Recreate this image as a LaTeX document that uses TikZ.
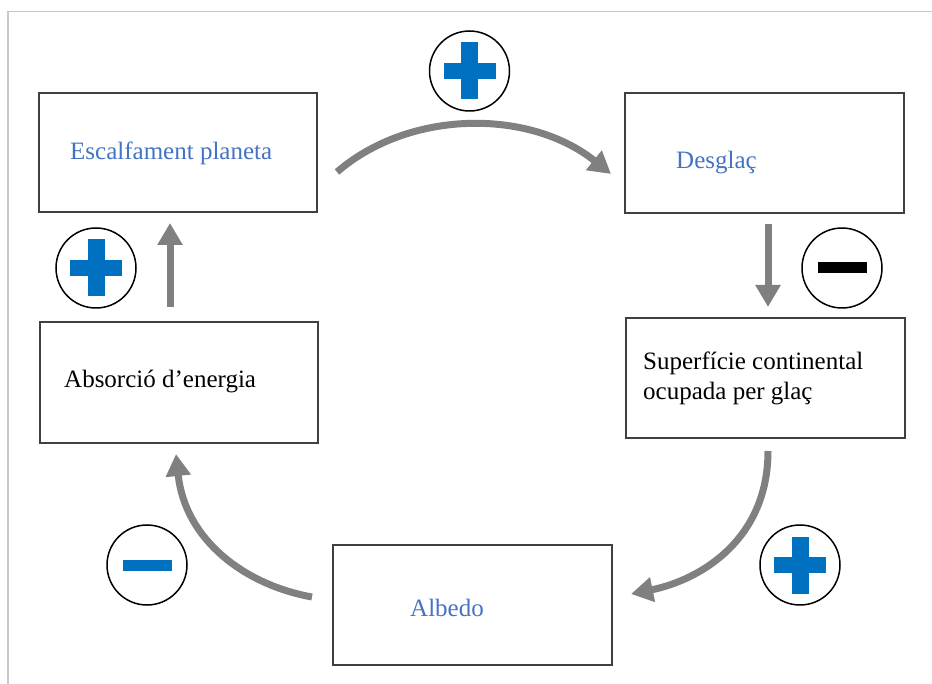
\documentclass[tikz,border=0pt]{standalone}
\usepackage{fontspec}
\setmainfont{Liberation Serif}
\usetikzlibrary{arrows.meta}
\definecolor{txtblue}{HTML}{4472C4}
\definecolor{signblue}{HTML}{0070C0}
\definecolor{arrgray}{HTML}{808080}
\definecolor{framegray}{HTML}{C8C8C8}
\definecolor{boxline}{HTML}{404040}
\tikzset{
  box/.style={draw=boxline, line width=1.4pt, inner sep=0pt, outer sep=0pt},
  lbl/.style={inner sep=0pt, anchor=base west, font=\fontsize{25}{28}\selectfont},
  signcircle/.style={draw=black, circle, line width=1.5pt, minimum size=80pt, inner sep=0pt},
  flow/.style={draw=arrgray, line width=7pt, -{Triangle[length=22pt,width=24pt]}},
  plusmark/.pic={
    \fill[signblue] (-8.5,-28.5) rectangle (8.5,28.5);
    \fill[signblue] (-26,-8) rectangle (26,8);
  },
  minusmark/.pic={
    \fill[#1] (-24.5,-5.5) rectangle (24.5,5.5);
  },
  minusmark/.default=black
}
\begin{document}
\begin{tikzpicture}[x=1pt,y=-1pt]
\useasboundingbox (0,0) rectangle (932,684);
% frame
\draw[framegray, line width=1.5pt] (8,684) -- (8,11.5) -- (932,11.5);
% boxes
\node[box, minimum width=278pt, minimum height=119pt] (b1) at (178,152.5) {};
\node[box, minimum width=279pt, minimum height=120pt] (b2) at (764.5,153) {};
\node[box, minimum width=279pt, minimum height=120pt] (b3) at (765.5,378) {};
\node[box, minimum width=279pt, minimum height=120pt] (b4) at (472.5,605) {};
\node[box, minimum width=278pt, minimum height=121pt] (b5) at (179,382.5) {};
% labels
\node[lbl, text=txtblue] (t1) at (70,160) {Escalfament planeta};
\node[lbl, text=txtblue] (t2) at (676,169) {Desglaç};
\node[lbl] (t3a) at (643,370) {Superfície continental};
\node[lbl] (t3b) at (643,400) {ocupada per glaç};
\node[lbl, text=txtblue] (t4) at (410,616) {Albedo};
\node[lbl] (t5) at (64,388) {Absorció d’energia};
% signs
\node[signcircle] (s1) at (469.5,71) {};
\pic at (s1.center) {plusmark};
\node[signcircle] (s2) at (842,268) {};
\pic at (s2.center) {minusmark};
\node[signcircle] (s3) at (96,268) {};
\pic at (s3.center) {plusmark};
\node[signcircle] (s4) at (147,565) {};
\pic at (s4.center) {minusmark=signblue};
\node[signcircle] (s5) at (800,565) {};
\pic at (s5.center) {plusmark};
% arrow end points
\coordinate (a1s) at (337,172);
\coordinate (a1e) at (611,174);
\coordinate (a2s) at (768,224);
\coordinate (a2e) at (768,307);
\coordinate (a3s) at (768,451);
\coordinate (a3e) at (631,594);
\coordinate (a4s) at (312,597);
\coordinate (a4e) at (176,454);
\coordinate (a5s) at (170,307);
\coordinate (a5e) at (170,223);
\draw[flow] (a1s) .. controls (410,109) and (530,109) .. (a1e);
\draw[flow] (a2s) -- (a2e);
\draw[flow] (a3s) .. controls (768,540) and (700,580) .. (a3e);
\draw[flow] (a4s) .. controls (245,585) and (185,540) .. (a4e);
\draw[flow] (a5s) -- (a5e);
\end{tikzpicture}
\end{document}
